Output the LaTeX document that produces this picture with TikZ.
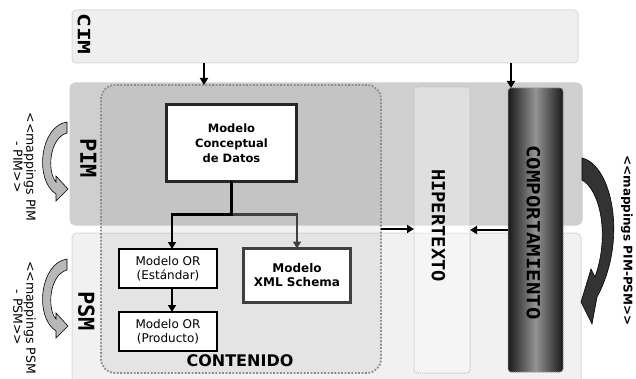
\documentclass[tikz,border=0pt]{standalone}
\usepackage{fontspec}
\setmainfont{DejaVu Sans}
\setmonofont{DejaVu Sans Mono}
\usetikzlibrary{arrows.meta}
\definecolor{cimfill}{HTML}{EFEFEF}
\definecolor{bandline}{HTML}{DADADA}
\definecolor{pimfill}{HTML}{CFCFCF}
\definecolor{psmfill}{HTML}{F1F1F1}
\begin{document}
\begin{tikzpicture}[x=1pt,y=-1pt,
  band/.style={rectangle, inner sep=0pt, outer sep=0pt, line width=1pt},
  titletext/.style={font=\ttfamily\bfseries\fontsize{#1}{#1}\selectfont, inner sep=0pt, rotate=-90},
  conn/.style={line width=2.5pt, -{Triangle[length=7pt,width=8pt]}},
  modelbox/.style={draw, fill=white, align=center, inner sep=0pt, outer sep=0pt},
  lightarrow/.style={line width=0.6pt, draw=black, fill=black!28},
  darkarrow/.style={line width=0.6pt, draw=black, fill=black!80}
]
\useasboundingbox (0,0) rectangle (636,379);

% bands
\node[band, draw=bandline, fill=cimfill, rounded corners=4pt, minimum width=506pt, minimum height=53pt] (cim) at (325,36.5) {};
\node[band, draw=pimfill, fill=pimfill, rounded corners=5pt, minimum width=512pt, minimum height=142pt] (pim) at (326,154) {};
\node[band, draw=bandline, fill=psmfill, rounded corners=5pt, minimum width=509pt, minimum height=159pt] (psm) at (326.5,312.5) {};

% regions
\node[band, draw=black!45, line width=1.8pt, dash pattern=on 1.8pt off 1.6pt, rounded corners=14pt, fill=black, fill opacity=0.05, minimum width=280pt, minimum height=288pt] (cont) at (241,229) {};
\node[band, draw=black!25, line width=1pt, dash pattern=on 1pt off 1pt, rounded corners=3pt, fill=white, fill opacity=0.35, minimum width=56pt, minimum height=286pt] (hip) at (442,230) {};
\node[band, draw=black!40, line width=1pt, dash pattern=on 1pt off 1pt, rounded corners=3pt, left color=black!90, right color=black!90, middle color=black!42, minimum width=55pt, minimum height=284pt] (comp) at (535.5,230) {};

% model boxes
\node[modelbox, line width=3pt, draw=black!85, minimum width=130pt, minimum height=77pt, font=\bfseries\fontsize{11.5}{15}\selectfont] (mcd) at (231.5,143) {Modelo\\Conceptual\\de Datos};
\node[modelbox, line width=2pt, minimum width=98pt, minimum height=39pt, font=\fontsize{12}{13.5}\selectfont] (ore) at (168,268.5) {Modelo OR\\(Estándar)};
\node[modelbox, line width=2pt, minimum width=98pt, minimum height=39pt, font=\fontsize{12}{13.5}\selectfont] (orp) at (168,331.5) {Modelo OR\\(Producto)};
\node[modelbox, line width=3pt, draw=black!75, minimum width=107pt, minimum height=54pt, font=\bfseries\fontsize{12}{14}\selectfont] (xml) at (297,275.5) {Modelo\\XML Schema};

% connectors
\path (mcd.south) ++(0,33) coordinate (j);
\draw[conn, draw=black!75] (j) -| (xml.north);
\draw[conn] (mcd.south) -- (j) -| ([xshift=4pt]ore.north);
\draw[conn] ([xshift=4pt]ore.south) -- ([xshift=4pt]orp.north);
\coordinate (c1) at ([xshift=-121pt]cim.south);
\coordinate (c2) at ([xshift=186pt]cim.south);
\draw[conn] (c1) -- (c1 |- cont.north);
\draw[conn] (c2) -- (c2 |- comp.north);
\draw[conn] (cont.east) -- (cont.east -| hip.west);
\draw[conn] (comp.west) -- (comp.west -| hip.east);

% titles
\node[titletext=17, xscale=1.35] (cimt) at (84,34) {CIM};
\node[titletext=22] (pimt) at (88.5,158) {PIM};
\node[titletext=22] (psmt) at (86.5,311) {PSM};
\node[titletext=18, xscale=1.04] (hipt) at (438.5,225.5) {HIPERTEXTO};
\node[titletext=18, xscale=1.15] (compt) at (533.5,232.5) {COMPORTAMIENTO};
\node[font=\bfseries\fontsize{16}{16}\selectfont, inner sep=0pt] (contt) at (240,361) {CONTENIDO};

% mapping arrows
\filldraw[lightarrow] (67,122) .. controls (40,126) and (34,180) .. (56,194) -- (56,201) -- (68,189) -- (56,176) -- (56,182) .. controls (47,172) and (49,138) .. (67,133) -- cycle;
\begin{scope}[yshift=-137pt]
\filldraw[lightarrow] (67,122) .. controls (40,126) and (34,180) .. (56,194) -- (56,201) -- (68,189) -- (56,176) -- (56,182) .. controls (47,172) and (49,138) .. (67,133) -- cycle;
\end{scope}
\filldraw[darkarrow] (582,158) .. controls (612,165) and (628,240) .. (597,297) -- (592,324) -- (581,302) -- (591,269) -- (595,277) .. controls (610,235) and (600,190) .. (582,180) -- cycle;

% mapping labels
\node[rotate=-90, align=center, inner sep=0pt, font=\fontsize{12.5}{13}\selectfont] (mpim) at (24.5,167) {<{}<mappings PIM\\- PIM>{}>};
\node[rotate=-90, align=center, inner sep=0pt, font=\fontsize{12.5}{13}\selectfont] (mpsm) at (24.5,317.5) {<{}<mappings PSM\\- PSM>{}>};
\node[rotate=-90, inner sep=0pt, font=\bfseries\fontsize{12}{14}\selectfont] (mpp) at (627,240.5) {<{}<mappings PIM-PSM>{}>};
\end{tikzpicture}
\end{document}
